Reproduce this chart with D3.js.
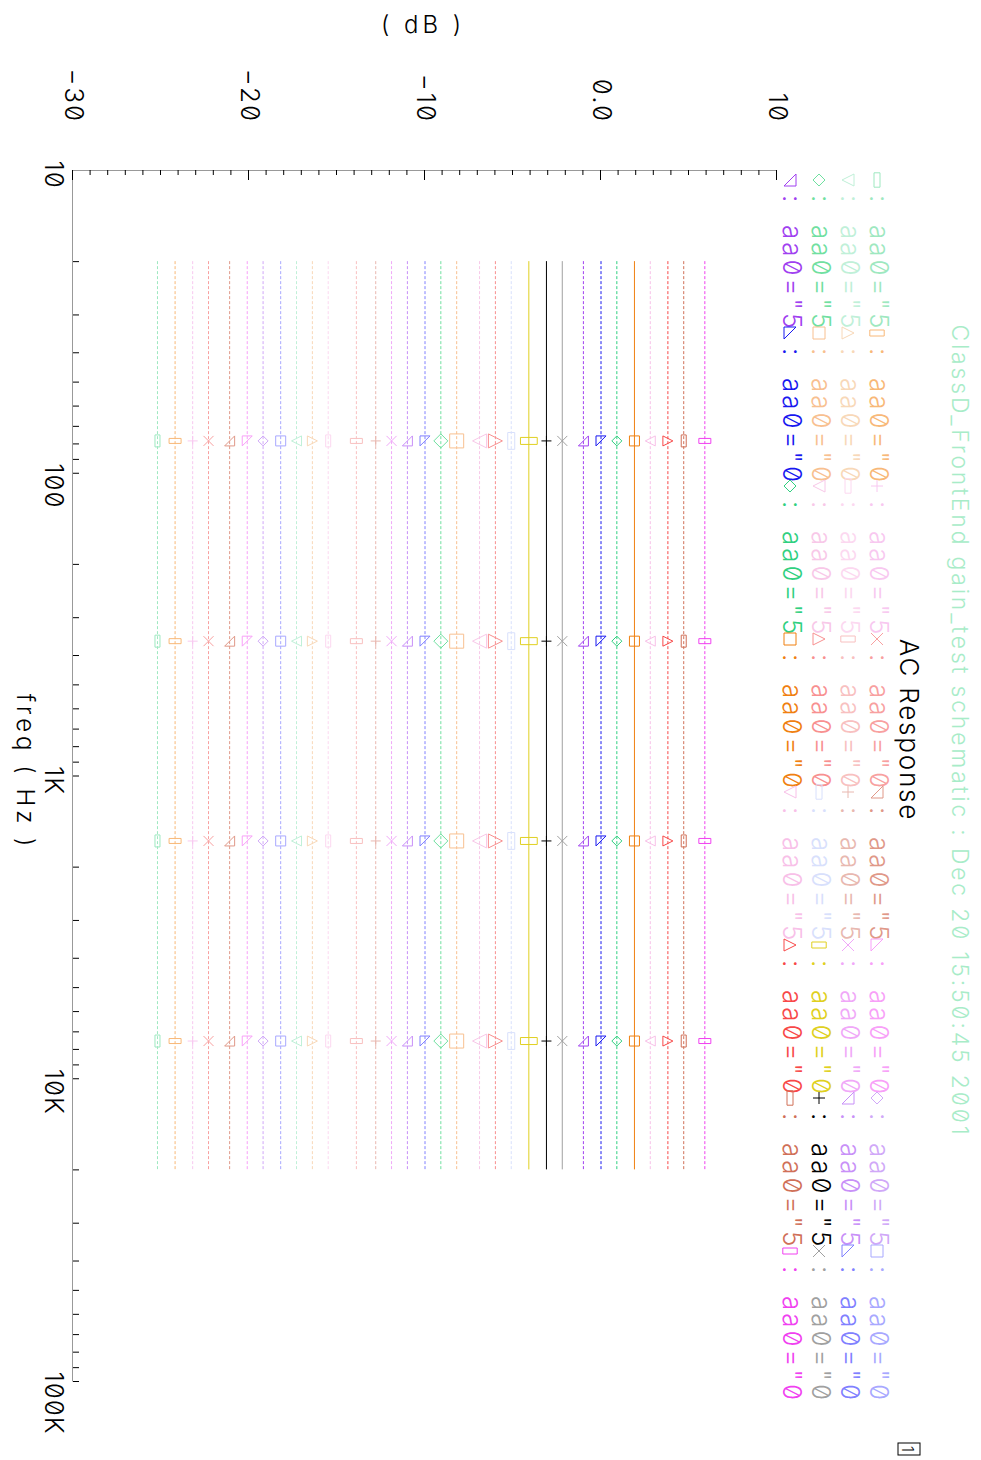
<!DOCTYPE html>
<html>
<head>
<meta charset="utf-8">
<script src="https://cdn.jsdelivr.net/npm/d3@7"></script>
<style>
body { margin: 0; background: #fff; }
text { font-family: Inter, "DejaVu Sans", sans-serif; font-weight: 300; font-feature-settings: "zero" 1; }
</style>
</head>
<body>
<script>
// values (dB level of each swept trace)
var levelsDb = [-25.2, -24.2, -23.2, -22.3, -21.1, -20.1, -19.2, -18.2,
                -17.3, -16.4, -15.5, -13.9, -12.8, -11.9, -11.0, -10.0,
                -9.1, -8.2, -6.9, -6.0, -5.1, -4.1, -3.1, -2.2,
                -1.0, 0.0, 0.9, 1.9, 2.8, 3.8, 4.7, 5.9];

var legendLabels = ['aa0="5', 'aa0="0', 'aa0="5', 'aa0="0', 'aa0="5', 'aa0="0', 'aa0="5', 'aa0="0',
                    'aa0="5', 'aa0="0', 'aa0="5', 'aa0="0', 'aa0="5', 'aa0="0', 'aa0="5', 'aa0="0',
                    'aa0="5', 'aa0="0', 'aa0="5', 'aa0="0', 'aa0="5', 'aa0="0', 'aa0="5', 'aa0="0',
                    'aa0="5', 'aa0="0', 'aa0="5', 'aa0="0', 'aa0="5', 'aa0="0', 'aa0="5', 'aa0="0'];

var sweepFreqs = [20, 20000];
var markerFreqs = [78.5, 360, 1645, 7535];

var freqTickValues = [10, 100, 1000, 10000, 100000];
var freqTickLabels = ["10", "100", "1K", "10K", "100K"];
var dbTickValues = [-30, -20, -10, 0, 10];
var dbTickLabels = ["\u221230", "\u221220", "\u221210", "0.0", "10"];

var titleText = "AC Response";
var subtitleText = "ClassD_FrontEnd gain_test schematic : Dec 20 15:50:45 2001";
var xTitle = "freq ( Hz )";
var yTitle = "( dB )";

// trace colours, first (palest) to last
var seriesColors = ["#9ee8c0", "#f8b878", "#f8c8f0", "#f8a0a0", "#e09888", "#f8a0f8", "#d0a8f8", "#a8a8ff",
                    "#c0f0d8", "#f8d8b8", "#fcd8f0", "#f8c0c0", "#e8b8b0", "#f0a8f8", "#c890f8", "#8080ff",
                    "#70e0a0", "#f8c090", "#f8c8e8", "#f89090", "#d8e0fc", "#e0d020", "#000000", "#a0a0a0",
                    "#a040f0", "#1818f0", "#30d080", "#f08010", "#f8c0e8", "#f84848", "#d07058", "#f040f0"];
var solidColors = ["#e0d020", "#000000", "#a0a0a0", "#f08010"];
var markerShapes = ["hrect", "vrect", "plus", "cross", "triA", "triB", "diamond", "square", "triDown", "triUp"];

window.onload = drawChart();

function markerPath(type, r){
    switch(type){
        case "hrect": return "M" + (-1.2*r) + "," + (-0.5*r) + "h" + (2.4*r) + "v" + r + "h" + (-2.4*r) + "Z";
        case "vrect": return "M" + (-0.5*r) + "," + (-1.2*r) + "h" + r + "v" + (2.4*r) + "h" + (-r) + "Z";
        case "plus": return "M" + (-r) + ",0H" + r + "M0," + (-r) + "V" + r;
        case "cross": return "M" + (-r) + "," + (-r) + "L" + r + "," + r + "M" + r + "," + (-r) + "L" + (-r) + "," + r;
        case "triA": return "M" + (-r) + "," + (-r) + "L" + r + "," + (-r) + "L" + r + "," + r + "Z";
        case "triB": return "M" + (-r) + "," + (-r) + "L" + (-r) + "," + r + "L" + r + "," + r + "Z";
        case "diamond": return "M0," + (-r) + "L" + r + ",0L0," + r + "L" + (-r) + ",0Z";
        case "square": return "M" + (-r) + "," + (-r) + "h" + (2*r) + "v" + (2*r) + "h" + (-2*r) + "Z";
        case "triDown": return "M" + (-r) + "," + (-r) + "L" + r + "," + (-r) + "L0," + r + "Z";
        default: return "M0," + (-r) + "L" + r + "," + r + "L" + (-r) + "," + r + "Z";
    }
}

function drawChart(){

    var pageW = 981,
        pageH = 1460;

    var svg = d3.select("body")
        .append("svg")
        .attr("width", pageW)
        .attr("height", pageH);

    //the plot is laid out landscape, then turned a quarter turn clockwise
    var g = svg.append("g")
        .attr("transform", "translate(" + pageW + ",0) rotate(90)");

    var x = d3.scaleLog()
        .domain([10, 100000])
        .range([170, 1381]);

    var y = d3.scaleLinear()
        .domain([-30, 10])
        .range([908, 204]);

    //freq axis
    var xAxis = d3.axisBottom(x)
        .tickValues(x.ticks())
        .tickSize(-6)
        .tickSizeOuter(0)
        .tickPadding(10)
        .tickFormat(function(d){
            var k = freqTickValues.indexOf(d);
            return k < 0 ? "" : freqTickLabels[k];
        });

    var gx = g.append("g")
        .attr("transform", "translate(0," + y(-30) + ")")
        .call(xAxis);
    gx.select(".domain").attr("stroke", "#999");
    gx.selectAll(".tick line").attr("stroke", "#000");
    gx.selectAll(".tick text")
        .attr("x", -10)
        .attr("text-anchor", "start")
        .style("font-size", "26px")
        .style("letter-spacing", "1px")
        .attr("fill", "#000");

    //dB axis
    var yAxis = d3.axisLeft(y)
        .tickValues(d3.range(-30, 11, 1))
        .tickSize(-5)
        .tickSizeOuter(0)
        .tickPadding(47)
        .tickFormat(function(d){
            var k = dbTickValues.indexOf(d);
            return k < 0 ? "" : dbTickLabels[k];
        });

    var gy = g.append("g")
        .attr("transform", "translate(" + x(10) + ",0)")
        .call(yAxis);
    gy.select(".domain").attr("stroke", "#999");
    gy.selectAll(".tick line")
        .attr("stroke", "#000")
        .attr("x2", function(d){ return d % 10 === 0 ? 10 : 5; });
    gy.selectAll(".tick text")
        .style("font-size", "26px")
        .style("letter-spacing", "2px")
        .attr("dy", "0.28em")
        .attr("fill", "#000");

    //traces
    var line = d3.line()
        .x(function(d){ return x(d[0]); })
        .y(function(d){ return y(d[1]); });

    var traces = g.selectAll(".trace")
        .data(levelsDb)
        .enter()
        .append("g")
        .attr("class", "trace");

    traces.append("path")
        .attr("d", function(v){
            return line(sweepFreqs.map(function(f){ return [f, v]; }));
        })
        .attr("fill", "none")
        .attr("stroke", function(v, i){ return seriesColors[i]; })
        .attr("stroke-width", 1)
        .attr("stroke-dasharray", function(v, i){
            return solidColors.indexOf(seriesColors[i]) < 0 ? "3,2" : null;
        });

    traces.each(function(v, i){
        var r = (i >= 16 && i <= 21) ? 7 : 5;
        d3.select(this).selectAll(".mark")
            .data(markerFreqs)
            .enter()
            .append("path")
            .attr("class", "mark")
            .attr("transform", function(f){ return "translate(" + x(f) + "," + y(v) + ")"; })
            .attr("d", markerPath(markerShapes[i % 10], r))
            .attr("fill", "none")
            .attr("stroke", seriesColors[i])
            .attr("stroke-width", 1);
    });

    //legend, four rows of eight
    var legend = g.selectAll(".legend")
        .data(legendLabels)
        .enter()
        .append("g")
        .attr("class", "legend")
        .attr("transform", function(d, i){
            return "translate(" + (180 + (i % 8) * 153) + "," + (111 + Math.floor(i / 8) * 29) + ")";
        });

    legend.append("path")
        .attr("transform", "translate(0,-7)")
        .attr("d", function(d, i){ return markerPath(markerShapes[i % 10], 6); })
        .attr("fill", "none")
        .attr("stroke", function(d, i){ return seriesColors[i]; });

    legend.append("text")
        .attr("x", 15)
        .style("font-size", "26px")
        .attr("fill", function(d, i){ return seriesColors[i]; })
        .text(":");

    legend.append("text")
        .attr("x", 45)
        .style("font-size", "26px")
        .style("letter-spacing", "3px")
        .attr("fill", function(d, i){ return seriesColors[i]; })
        .text(function(d){ return d; });

    //titles
    g.append("text")
        .attr("x", 731)
        .attr("y", 29)
        .attr("text-anchor", "middle")
        .style("font-size", "23px")
        .style("letter-spacing", "2.8px")
        .attr("fill", "#a8ecc8")
        .text(subtitleText);

    g.append("text")
        .attr("x", 730)
        .attr("y", 81)
        .attr("text-anchor", "middle")
        .style("font-size", "26px")
        .style("letter-spacing", "1.8px")
        .attr("fill", "#000")
        .text(titleText);

    g.append("text")
        .attr("x", 772)
        .attr("y", 964)
        .attr("text-anchor", "middle")
        .style("font-size", "24px")
        .style("letter-spacing", "4px")
        .attr("fill", "#000")
        .text(xTitle);

    g.append("text")
        .attr("transform", "translate(33,558) rotate(-90)")
        .attr("text-anchor", "middle")
        .style("font-size", "24px")
        .style("letter-spacing", "4px")
        .attr("fill", "#000")
        .text(yTitle);

    //page number box
    g.append("rect")
        .attr("x", 1443)
        .attr("y", 61)
        .attr("width", 12)
        .attr("height", 22)
        .attr("fill", "none")
        .attr("stroke", "#000");
    g.append("text")
        .attr("x", 1449)
        .attr("y", 79)
        .attr("text-anchor", "middle")
        .style("font-size", "16px")
        .attr("fill", "#000")
        .text("1");
}
</script>
</body>
</html>
